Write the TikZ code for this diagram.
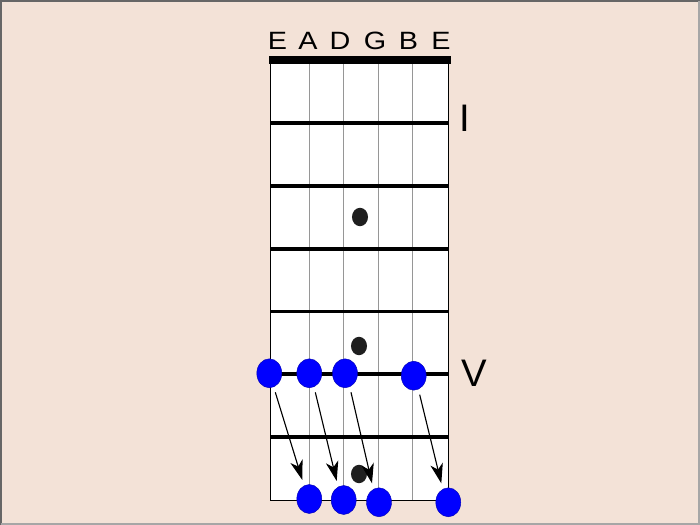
\documentclass[tikz,border=0pt]{standalone}
\usepackage{fontspec}
\setmainfont{Liberation Sans}
\usepackage{xcolor}
\usetikzlibrary{shapes.geometric, arrows.meta}
\definecolor{sfondo}{RGB}{243,226,215}
\definecolor{corda}{RGB}{150,150,150}

\begin{document}
\begin{tikzpicture}[x=0.025cm, y=-0.025cm,
    nota/.style={ellipse, fill=blue, draw=blue!70!black, line width=0.3pt, minimum width=0.625cm, minimum height=0.725cm, inner sep=0pt},
    punto/.style={ellipse, fill=black!88, minimum width=0.4cm, minimum height=0.46cm, inner sep=0pt},
    tasto/.style={line width=2.5pt, black},
    freccia/.style={line width=0.8pt, -{Stealth[length=14pt, width=9pt, inset=4pt]}},
    lettera/.style={anchor=base, font=\fontsize{17.8}{20}\selectfont, inner sep=0pt},
    numero/.style={anchor=base, font=\fontsize{27.3}{30}\selectfont, inner sep=0pt}]
    % Parametri
    \pgfmathsetmacro{\xsx}{270}
    \pgfmathsetmacro{\xdx}{448}
    \pgfmathsetmacro{\ytop}{62}
    \pgfmathsetmacro{\ybot}{500}
    % Sfondo e cornice
    \useasboundingbox (0,0) rectangle (700,525);
    \fill[sfondo] (0,0) rectangle (700,525);
    \draw[black!60, line width=1.4pt] (1,525) -- (1,1) -- (700,1);
    \draw[black!35, line width=1.4pt] (1,524) -- (699,524) -- (699,1);
    % Tastiera
    \filldraw[fill=white, draw=black, line width=0.5pt] (\xsx,\ytop) rectangle (\xdx,\ybot);
    \foreach \x in {309,343,378,412}{
        \draw[corda, line width=0.7pt] (\x,\ytop) -- (\x,\ybot);
    }
    \foreach \y in {123,186,249,311.5,374,437}{
        \draw[tasto] (\xsx,\y) -- (\xdx+1,\y);
    }
    \fill (\xsx-1,56) rectangle (\xdx+3,64);
    % Corde
    \foreach \l/\x [count=\c] in {E/277.5, A/308, D/340, G/375, B/408.5, E/441}{
        \node[lettera] (corda\c) at (\x,49.5) {\scalebox{1.15}[1]{\l}};
    }
    % Numeri romani
    \node[numero] (tastoI) at (465,131.5) {I};
    \node[numero] (tastoV) at (474.5,387) {V};
    % Segnatasti
    \node[punto] (p3) at (360,217) {};
    \node[punto] (p5) at (359,346) {};
    \node[punto] (p7) at (359,474) {};
    % Note
    \foreach \n/\x/\y in {1/269.3/373.3, 2/309.3/373.3, 3/345/373.3, 4/413.7/375.7}{
        \node[nota] (a\n) at (\x,\y) {};
    }
    \foreach \n/\x/\y in {1/309.3/499, 2/343.7/500, 3/379/502.3, 4/448.3/502.3}{
        \node[nota] (b\n) at (\x,\y) {};
    }
    % Frecce
    \foreach \n in {1,...,4}{
        \draw[freccia] ([shift={(6,19)}]a\n.center) -- ([shift={(-7,-19)}]b\n.center);
    }
\end{tikzpicture}
\end{document}
